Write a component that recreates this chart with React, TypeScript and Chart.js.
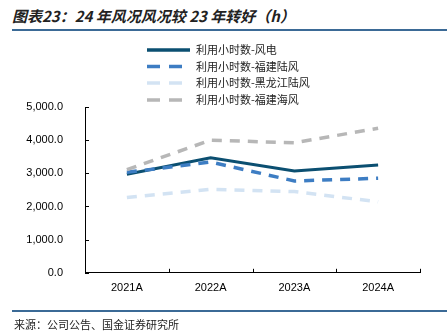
import React, { useEffect, useRef } from "react";
import { Chart, registerables } from "chart.js";

Chart.register(...registerables);

const categories = ["2021A", "2022A", "2023A", "2024A"];
const windPower = [2970, 3470, 3070, 3250];
const fujianOnshore = [3030, 3340, 2770, 2850];
const heilongjiangOnshore = [2270, 2520, 2450, 2140];
const fujianOffshore = [3110, 4000, 3920, 4360];
const seriesNames = [
  "利用小时数-风电",
  "利用小时数-福建陆风",
  "利用小时数-黑龙江陆风",
  "利用小时数-福建海风",
];
const yTicks = [0, 1000, 2000, 3000, 4000, 5000];

const colors = ["#0B4F71", "#3D7DC3", "#D3E3F3", "#B7B7B7"];
const dashes: number[][] = [[], [10, 8], [10, 8], [10, 8]];

const fmt = (v: number) =>
  v.toLocaleString("en-US", { minimumFractionDigits: 1, maximumFractionDigits: 1 });

const decoPlugin = {
  id: "deco",
  afterDraw(chart: any) {
    const ctx = chart.ctx;
    const y = chart.scales.y;
    const area = chart.chartArea;
    ctx.save();
    ctx.strokeStyle = "#000";
    ctx.lineWidth = 1;
    yTicks.forEach((t) => {
      const py = Math.round(y.getPixelForValue(t)) + 0.5;
      ctx.beginPath();
      ctx.moveTo(area.left, py);
      ctx.lineTo(area.left + 4, py);
      ctx.stroke();
    });
    for (let i = 0; i <= categories.length; i++) {
      const px = Math.round(area.left + ((area.right - area.left) * i) / categories.length) + 0.5;
      ctx.beginPath();
      ctx.moveTo(px, area.bottom);
      ctx.lineTo(px, area.bottom - 4);
      ctx.stroke();
    }
    const lx0 = 147;
    const lx1 = 190;
    const rows = [50, 66.5, 83, 100];
    ctx.font = '11px "Noto Sans CJK SC"';
    ctx.textBaseline = "middle";
    ctx.fillStyle = "#222";
    seriesNames.forEach((name, i) => {
      ctx.beginPath();
      ctx.strokeStyle = colors[i];
      ctx.lineWidth = 3.5;
      ctx.setLineDash(dashes[i].length ? [13, 9] : []);
      ctx.moveTo(lx0, rows[i]);
      ctx.lineTo(lx1, rows[i]);
      ctx.stroke();
      ctx.setLineDash([]);
      ctx.fillText(name, 196, rows[i]);
    });
    ctx.restore();
  },
};

export default function App() {
  const ref = useRef<HTMLCanvasElement>(null);
  useEffect(() => {
    document.body.style.margin = "0";
    const chart = new Chart(ref.current!, {
      type: "line",
      data: {
        labels: categories,
        datasets: [windPower, fujianOnshore, heilongjiangOnshore, fujianOffshore].map((d, i) => ({
          label: seriesNames[i],
          data: d,
          borderColor: colors[i],
          backgroundColor: colors[i],
          borderWidth: i === 0 ? 3 : 3.5,
          borderDash: dashes[i],
          pointRadius: 0,
          tension: 0,
          fill: false,
          order: 4 - i,
        })),
      },
      options: {
        animation: false,
        responsive: false,
        maintainAspectRatio: false,
        layout: { padding: { top: 107, right: 27, bottom: 38, left: 0 } },
        plugins: { legend: { display: false }, tooltip: { enabled: false } },
        scales: {
          x: {
            offset: true,
            grid: { display: false },
            border: { display: true, color: "#000", width: 1 },
            ticks: { color: "#000", font: { family: "Liberation Sans, Arial", size: 11 }, padding: 1 },
          },
          y: {
            min: 0,
            max: 5000,
            afterFit: (s: any) => { s.width = 85; },
            afterBuildTicks: (s: any) => { s.ticks = yTicks.map((v) => ({ value: v })); },
            grid: { display: false },
            border: { display: true, color: "#000", width: 1 },
            ticks: {
              color: "#000",
              font: { family: "Liberation Sans, Arial", size: 11 },
              padding: 14,
              callback: (v: any) => fmt(Number(v)),
            },
          },
        },
      },
      plugins: [decoPlugin],
    });
    return () => chart.destroy();
  }, []);
  return (
    <div style={{ position: "relative", width: 447, height: 334, background: "#fff", overflow: "hidden" }}>
      <div
        style={{
          position: "absolute",
          left: 12,
          top: 6,
          fontFamily: '"Noto Sans CJK SC"',
          fontSize: 15,
          fontWeight: "bold",
          fontStyle: "italic",
          color: "#222",
          whiteSpace: "nowrap",
          lineHeight: "20px",
        }}
      >
        图表23：24 年风况风况较 23 年转好（h）
      </div>
      <div style={{ position: "absolute", left: 12, right: 0, top: 29, height: 2, background: "#3B6A96" }} />
      <canvas ref={ref} width={447} height={334} style={{ position: "absolute", left: 0, top: 0 }} />
      <div style={{ position: "absolute", left: 12, right: 0, top: 310, height: 2, background: "#3B6A96" }} />
      <div
        style={{
          position: "absolute",
          left: 14,
          top: 316,
          fontFamily: '"Noto Sans CJK SC"',
          fontSize: 11,
          color: "#222",
          whiteSpace: "nowrap",
          lineHeight: "16px",
        }}
      >
        来源：公司公告、国金证券研究所
      </div>
    </div>
  );
}
